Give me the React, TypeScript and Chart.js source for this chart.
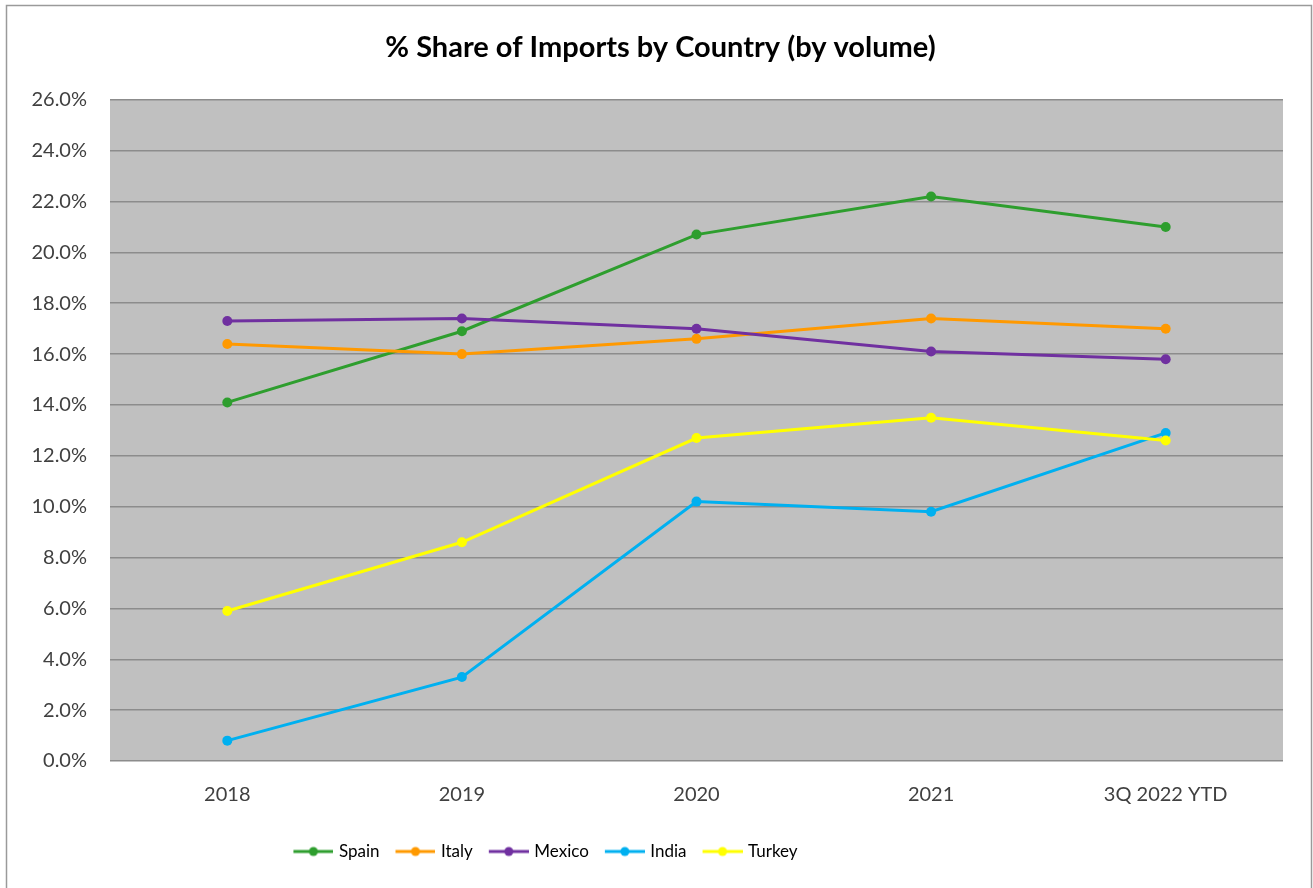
import React, { useEffect, useRef } from "react";
import { Chart, registerables } from "chart.js";
Chart.register(...registerables);

const categories = ["2018", "2019", "2020", "2021", "3Q 2022 YTD"];
const spain = [14.1, 16.9, 20.7, 22.2, 21.0];
const italy = [16.4, 16.0, 16.6, 17.4, 17.0];
const mexico = [17.3, 17.4, 17.0, 16.1, 15.8];
const india = [0.8, 3.3, 10.2, 9.8, 12.9];
const turkey = [5.9, 8.6, 12.7, 13.5, 12.6];
const seriesNames = ["Spain", "Italy", "Mexico", "India", "Turkey"];
const seriesValues = [spain, italy, mexico, india, turkey];
const seriesColors = ["#2E9E2E", "#FF9900", "#7030A0", "#00B0F0", "#FFFF00"];
const yMin = 0;
const yMax = 26;
const yStep = 2;
const titleText = "% Share of Imports by Country (by volume)";

const FONT = "'Lato', sans-serif";

// legend marker: transparent lead-in then a 40px line with a dot
const BOX_W = 45;
const MARK_W = BOX_W + 6;
function legendMarker(color: string) {
  const c = document.createElement("canvas");
  c.width = MARK_W;
  c.height = 12;
  const ctx = c.getContext("2d")!;
  const x0 = MARK_W - 40;
  ctx.strokeStyle = color;
  ctx.lineWidth = 3;
  ctx.beginPath();
  ctx.moveTo(x0, 6);
  ctx.lineTo(MARK_W, 6);
  ctx.stroke();
  ctx.fillStyle = color;
  ctx.beginPath();
  ctx.arc(x0 + 20, 6, 4.5, 0, Math.PI * 2);
  ctx.fill();
  return c;
}

export default function App() {
  const ref = useRef<HTMLCanvasElement>(null);
  useEffect(() => {
    const markers = seriesColors.map(legendMarker);
    const bgPlugin = {
      id: "bg",
      afterLayout(chart: any) {
        // Excel-like placement: title a bit right of centre, legend left of centre
        if (chart.titleBlock) {
          chart.titleBlock.left += 19;
          chart.titleBlock.right += 19;
        }
        if (chart.legend) {
          chart.legend.left -= 100;
          chart.legend.right -= 100;
        }
      },
      beforeDraw(chart: any) {
        const { ctx, chartArea } = chart;
        ctx.save();
        ctx.fillStyle = "#ffffff";
        ctx.fillRect(0, 0, chart.width, chart.height);
        ctx.strokeStyle = "#9a9a9a";
        ctx.lineWidth = 1.5;
        ctx.strokeRect(6.5, 5.5, 1305, 900);
        ctx.fillStyle = "#C0C0C0";
        ctx.fillRect(chartArea.left, chartArea.top, chartArea.right - chartArea.left, chartArea.bottom - chartArea.top);
        ctx.restore();
      },
    };
    const chart = new Chart(ref.current!, {
      type: "line",
      data: {
        labels: categories,
        datasets: seriesNames.map((n, i) => ({
          label: n,
          data: seriesValues[i],
          borderColor: seriesColors[i],
          backgroundColor: seriesColors[i],
          borderWidth: 3,
          pointRadius: 5,
          pointHoverRadius: 5,
          pointBackgroundColor: seriesColors[i],
          pointBorderWidth: 0,
          tension: 0,
          order: seriesNames.length - i,
        })),
      },
      options: {
        animation: false,
        responsive: false,
        maintainAspectRatio: false,
        layout: { padding: { left: 0, right: 30, top: 0, bottom: 18 } },
        plugins: {
          title: {
            display: true,
            text: titleText,
            color: "#000000",
            font: { family: FONT, size: 29, weight: "bold" },
            padding: { top: 30, bottom: 35 },
          },
          legend: {
            position: "bottom",
            labels: {
              usePointStyle: true,
              pointStyleWidth: BOX_W,
              padding: 8,
              color: "#262626",
              font: { family: FONT, size: 17 },
              generateLabels: () =>
                seriesNames.map((n, i) => ({
                  text: n,
                  fillStyle: seriesColors[i],
                  strokeStyle: seriesColors[i],
                  lineWidth: 0,
                  pointStyle: markers[i] as any,
                  datasetIndex: i,
                  hidden: false,
                })),
            },
          },
          tooltip: { enabled: false },
        },
        scales: {
          x: {
            offset: true,
            afterFit: (axis: any) => {
              axis.height += 6;
            },
            grid: { display: false, drawTicks: false },
            border: { display: false },
            ticks: { color: "#404040", font: { family: FONT, size: 20 }, padding: 22 },
          },
          y: {
            min: yMin,
            max: yMax,
            afterFit: (axis: any) => {
              axis.width = 110;
            },
            grid: { color: "#8C8C8C", lineWidth: 1.5, drawTicks: false },
            border: { display: false },
            ticks: {
              stepSize: yStep,
              color: "#404040",
              font: { family: FONT, size: 20 },
              padding: 23,
              callback: (v: any) => Number(v).toFixed(1) + "%",
            },
          },
        },
      },
      plugins: [bgPlugin],
    });
    return () => chart.destroy();
  }, []);
  return (
    <div style={{ position: "fixed", left: 0, top: 0, width: 1313, height: 888, overflow: "hidden", background: "#fff" }}>
      <canvas ref={ref} width={1313} height={888} style={{ display: "block", width: 1313, height: 888 }} />
    </div>
  );
}
